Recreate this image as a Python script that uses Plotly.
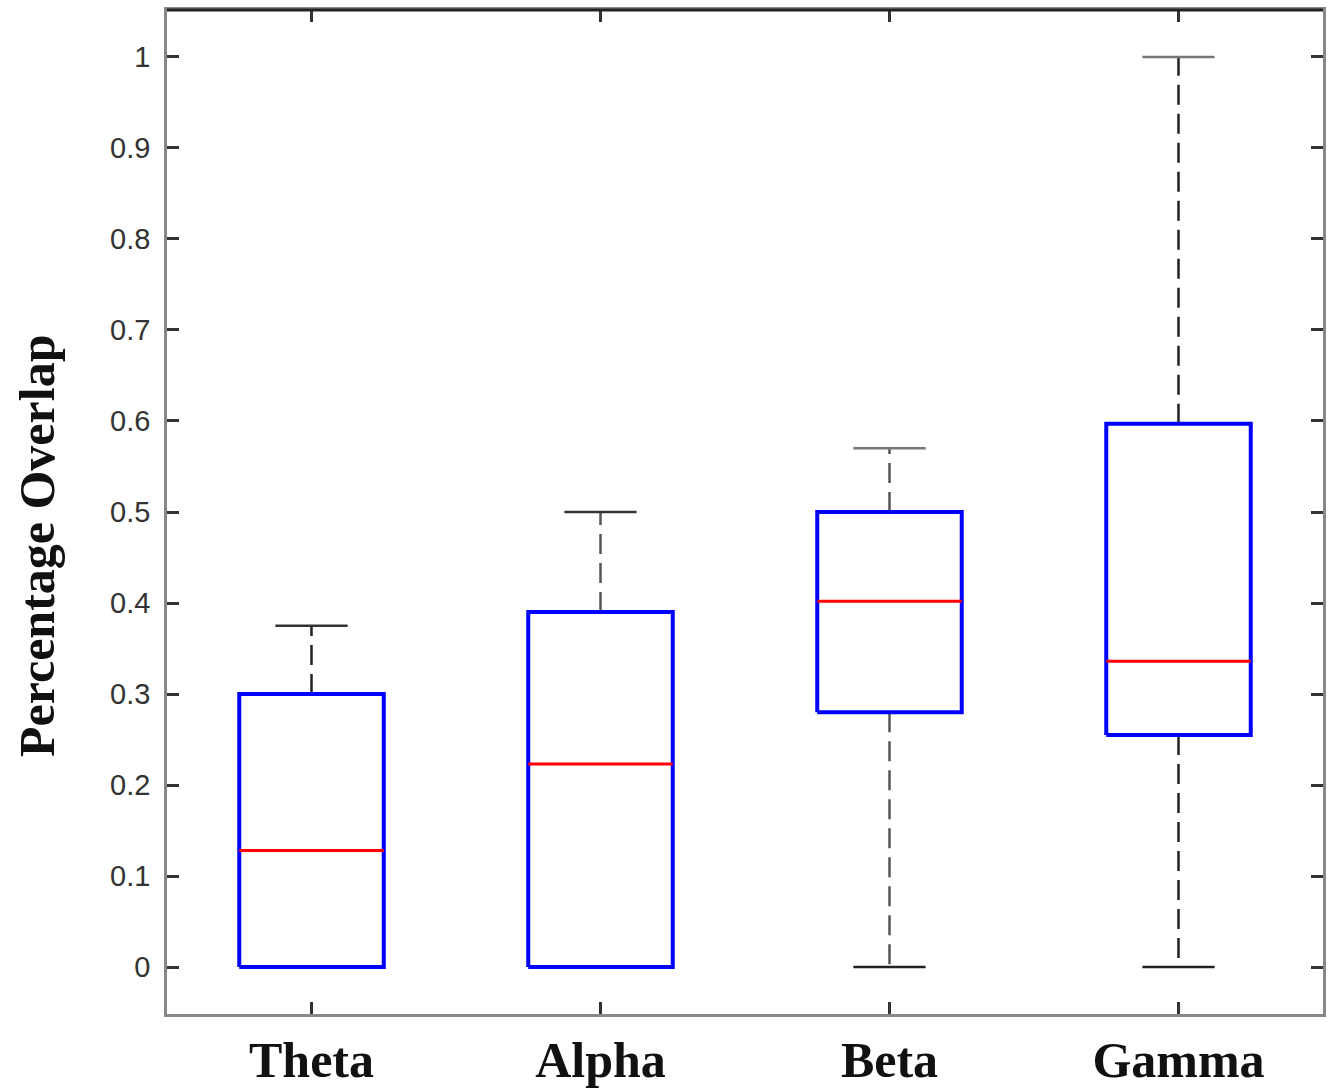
import plotly.graph_objects as go

categories = ["Theta", "Alpha", "Beta", "Gamma"]
lower_whisker = [0.0, 0.0, 0.0, 0.0]
q1 = [0.0, 0.0, 0.28, 0.255]
median = [0.128, 0.223, 0.402, 0.336]
q3 = [0.30, 0.39, 0.50, 0.597]
upper_whisker = [0.375, 0.50, 0.57, 1.0]
y_ticks = [0, 0.1, 0.2, 0.3, 0.4, 0.5, 0.6, 0.7, 0.8, 0.9, 1]
y_tick_labels = ["0", "0.1", "0.2", "0.3", "0.4", "0.5", "0.6", "0.7", "0.8", "0.9", "1"]

positions = list(range(1, len(categories) + 1))
BOX_HALF = 0.25
CAP_HALF = 0.125

fig = go.Figure()

# whiskers (dashed)
for i, p in enumerate(positions):
    dark = categories[i] in ("Theta", "Gamma")
    col = "#222222" if dark else "#555555"
    fig.add_trace(go.Scatter(
        x=[p, p, None, p, p],
        y=[q3[i], upper_whisker[i], None, q1[i], lower_whisker[i]],
        mode="lines", line=dict(color=col, width=2.5, dash="20px,9px"),
        hoverinfo="skip", showlegend=False))
    # upper cap
    fig.add_trace(go.Scatter(
        x=[p - CAP_HALF, p + CAP_HALF], y=[upper_whisker[i], upper_whisker[i]],
        mode="lines", line=dict(color="#777777" if i >= 2 else "#333333", width=2.5),
        hoverinfo="skip", showlegend=False))
    # lower cap
    fig.add_trace(go.Scatter(
        x=[p - CAP_HALF, p + CAP_HALF], y=[lower_whisker[i], lower_whisker[i]],
        mode="lines", line=dict(color="#222222", width=2.5),
        hoverinfo="skip", showlegend=False))

# boxes
for i, p in enumerate(positions):
    fig.add_trace(go.Scatter(
        x=[p - BOX_HALF, p + BOX_HALF, p + BOX_HALF, p - BOX_HALF, p - BOX_HALF],
        y=[q1[i], q1[i], q3[i], q3[i], q1[i]],
        mode="lines", line=dict(color="#0000ff", width=4),
        hoverinfo="skip", showlegend=False))
    fig.add_trace(go.Scatter(
        x=[p - BOX_HALF, p + BOX_HALF], y=[median[i], median[i]],
        mode="lines", line=dict(color="#ff0000", width=3),
        hoverinfo="skip", showlegend=False))

fig.add_shape(type="line", xref="paper", yref="paper", x0=0, x1=1, y0=1, y1=1,
              line=dict(color="#222222", width=3))

fig.add_annotation(text="<b>Percentage Overlap</b>", xref="paper", yref="paper",
                   x=-0.1125, y=0.467, xanchor="center", yanchor="middle",
                   textangle=-90, showarrow=False,
                   font=dict(family="Liberation Serif, Times New Roman, serif",
                             size=50, color="#111111"))

fig.update_layout(
    width=1336, height=1092,
    margin=dict(l=167, r=13, t=10, b=78),
    paper_bgcolor="white", plot_bgcolor="white",
    showlegend=False,
)
fig.update_xaxes(
    range=[0.5, 4.5], tickvals=positions, ticktext=["<b>%s</b>" % c for c in categories],
    showgrid=False, zeroline=False, automargin=False,
    showline=True, linecolor="#888888", linewidth=2.5, mirror="allticks",
    ticks="inside", ticklen=12, tickwidth=2.5, tickcolor="#333333",
    ticklabelstandoff=0,
    tickfont=dict(family="Liberation Serif, Times New Roman, serif", size=50, color="#111111"),
)
fig.update_yaxes(
    range=[-0.0516, 1.0516], tickvals=y_ticks, ticktext=y_tick_labels,
    showgrid=False, zeroline=False, automargin=False,
    showline=True, linecolor="#888888", linewidth=2.5, mirror="allticks",
    ticks="inside", ticklen=12, tickwidth=2.5, tickcolor="#333333",
    ticklabelstandoff=8,
    tickfont=dict(family="Liberation Sans, Arial, sans-serif", size=29, color="#333333"),
)

fig.write_html("out.html",
               config={"displayModeBar": False},
               post_script="document.body.style.margin='0';document.body.style.overflow='hidden';")
